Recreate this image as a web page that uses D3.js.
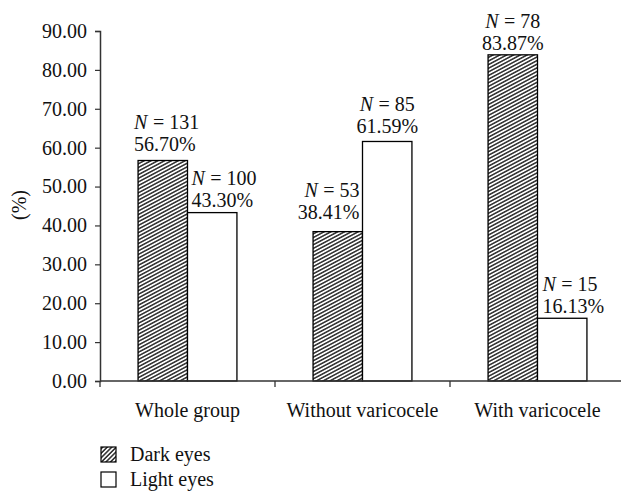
<!DOCTYPE html>
<html>
<head>
<meta charset="utf-8">
<script src="https://cdn.jsdelivr.net/npm/d3@7"></script>
<style>
  body { margin: 0; background: #fff; overflow: hidden; }
  svg { display: block; }
  text { font-family: "Liberation Serif", "DejaVu Serif", serif; fill: #111; }
</style>
</head>
<body>
<div id="chart"></div>
<script>
const categorias = ["Whole group", "Without varicocele", "With varicocele"];
const series = ["Dark eyes", "Light eyes"];
const valoresEscuros = [56.70, 38.41, 83.87];
const valoresClaros = [43.30, 61.59, 16.13];
const nEscuros = [131, 53, 78];
const nClaros = [100, 85, 15];
const yTicks = [0, 10, 20, 30, 40, 50, 60, 70, 80, 90];

const width = 622;
const height = 494;
const margin = { top: 31, right: 1, bottom: 113, left: 100 };
const innerWidth = width - margin.left - margin.right;
const innerHeight = height - margin.top - margin.bottom;
const fontSize = 20;
const fonte = "Liberation Serif";

const svg = d3
  .select("#chart")
  .append("svg")
  .attr("width", width)
  .attr("height", height)
  .attr("font-family", fonte)
  .attr("font-size", fontSize);

// hachura diagonal das barras escuras
const defs = svg.append("defs");
const criaHachura = (id, angulo) => {
  const p = defs
    .append("pattern")
    .attr("id", id)
    .attr("patternUnits", "userSpaceOnUse")
    .attr("width", 3.2)
    .attr("height", 3.2)
    .attr("patternTransform", "rotate(" + angulo + ")");
  p.append("rect").attr("width", 3.2).attr("height", 3.2).attr("fill", "#fff");
  p.append("line")
    .attr("x1", 0).attr("y1", 1.6)
    .attr("x2", 3.2).attr("y2", 1.6)
    .attr("stroke", "#000")
    .attr("stroke-width", 1.25);
};
criaHachura("hatch", -28);
criaHachura("hatch-legend", -45);

// a última faixa termina um pouco fora da janela, como no original
const x0 = d3
  .scaleBand()
  .domain(categorias)
  .range([margin.left, margin.left + 525])
  .padding(0);
const x1 = d3
  .scaleBand()
  .domain(series)
  .range([0, x0.bandwidth()])
  .paddingInner(0)
  .paddingOuter(0.77);
const y = d3
  .scaleLinear()
  .domain([0, 90])
  .range([margin.top + innerHeight, margin.top]);
const base = margin.top + innerHeight;

// eixo y
const yAxis = svg
  .append("g")
  .attr("transform", "translate(" + margin.left + ",0)")
  .call(d3.axisLeft(y).tickValues(yTicks).tickFormat(d3.format(".2f")).tickSize(5).tickPadding(8))
  .attr("font-family", fonte)
  .attr("font-size", fontSize);
yAxis.select(".domain").attr("stroke", "#333").attr("stroke-width", 1.5);
yAxis.selectAll(".tick line").attr("stroke", "#333").attr("stroke-width", 1.2);
yAxis.selectAll(".tick text").attr("fill", "#111");

const barras = [];
categorias.forEach((c, i) => {
  barras.push({ cat: c, serie: series[0], valor: valoresEscuros[i], n: nEscuros[i] });
  barras.push({ cat: c, serie: series[1], valor: valoresClaros[i], n: nClaros[i] });
});

svg
  .append("g")
  .selectAll("rect")
  .data(barras)
  .enter()
  .append("rect")
  .attr("x", (d) => x0(d.cat) + x1(d.serie))
  .attr("y", (d) => y(d.valor))
  .attr("width", x1.bandwidth())
  .attr("height", (d) => base - y(d.valor))
  .attr("fill", (d) => (d.serie === series[0] ? "url(#hatch)" : "#fff"))
  .attr("stroke", "#000")
  .attr("stroke-width", 1.3);

// eixo x (desenhado depois das barras)
const xAxis = svg
  .append("g")
  .attr("transform", "translate(0," + base + ")")
  .call(d3.axisBottom(x0).tickSize(0).tickPadding(22))
  .attr("font-family", fonte)
  .attr("font-size", fontSize);
xAxis
  .select(".domain")
  .attr("d", "M" + margin.left + ",0H" + (margin.left + innerWidth))
  .attr("stroke", "#333")
  .attr("stroke-width", 1.5);
xAxis.selectAll(".tick text").attr("fill", "#111");
xAxis
  .selectAll(".sep")
  .data(categorias)
  .enter()
  .append("line")
  .attr("class", "sep")
  .attr("x1", (d) => x0(d))
  .attr("x2", (d) => x0(d))
  .attr("y1", 0)
  .attr("y2", 6)
  .attr("stroke", "#333")
  .attr("stroke-width", 1.3);

// posição dos rótulos em cada barra (anchor, deslocamento x, deslocamento y)
const posRotulo = [
  ["start", -4, -10],
  ["start", 4, -6],
  ["end", -3, -13],
  ["middle", 0, -8],
  ["middle", 0, -5],
  ["start", 5, -5],
];

const rotuloX = (d, i) => {
  const p = posRotulo[i];
  let bx = x0(d.cat) + x1(d.serie);
  if (p[0] === "middle") bx += x1.bandwidth() / 2;
  if (p[0] === "end") bx += x1.bandwidth();
  return bx + p[1];
};

const rotulos = svg.append("g");

// linha "N = ..." feita com dois textos (N em itálico + resto), medidos para alinhar
barras.forEach((d, i) => {
  const yN = y(d.valor) + posRotulo[i][2] - 22;
  const tN = rotulos.append("text").attr("y", yN).attr("font-style", "italic").text("N");
  const tResto = rotulos.append("text").attr("y", yN).text("= " + d.n);
  const gap = 5.5;
  const wN = tN.node().getComputedTextLength();
  const wResto = tResto.node().getComputedTextLength();
  const total = wN + gap + wResto;
  let x = rotuloX(d, i);
  if (posRotulo[i][0] === "middle") x -= total / 2;
  if (posRotulo[i][0] === "end") x -= total;
  tN.attr("x", x);
  tResto.attr("x", x + wN + gap);
});

rotulos
  .selectAll(".rot-pct")
  .data(barras)
  .enter()
  .append("text")
  .attr("class", "rot-pct")
  .attr("x", rotuloX)
  .attr("y", (d, i) => y(d.valor) + posRotulo[i][2])
  .attr("text-anchor", (d, i) => posRotulo[i][0])
  .text((d) => d3.format(".2f")(d.valor) + "%");

// título do eixo y
svg
  .append("text")
  .attr("transform", "translate(26,205) rotate(-90)")
  .attr("text-anchor", "middle")
  .text("(%)");

// legenda
const legenda = svg
  .append("g")
  .selectAll("g")
  .data(series)
  .enter()
  .append("g");

legenda
  .append("rect")
  .attr("x", 101)
  .attr("y", (d, i) => 447 + i * 25)
  .attr("width", 15)
  .attr("height", 15)
  .attr("fill", (d, i) => (i === 0 ? "url(#hatch-legend)" : "#fff"))
  .attr("stroke", "#000")
  .attr("stroke-width", 1.2);

legenda
  .append("text")
  .attr("x", 130)
  .attr("y", (d, i) => 461 + i * 25)
  .text((d) => d);
</script>
</body>
</html>
